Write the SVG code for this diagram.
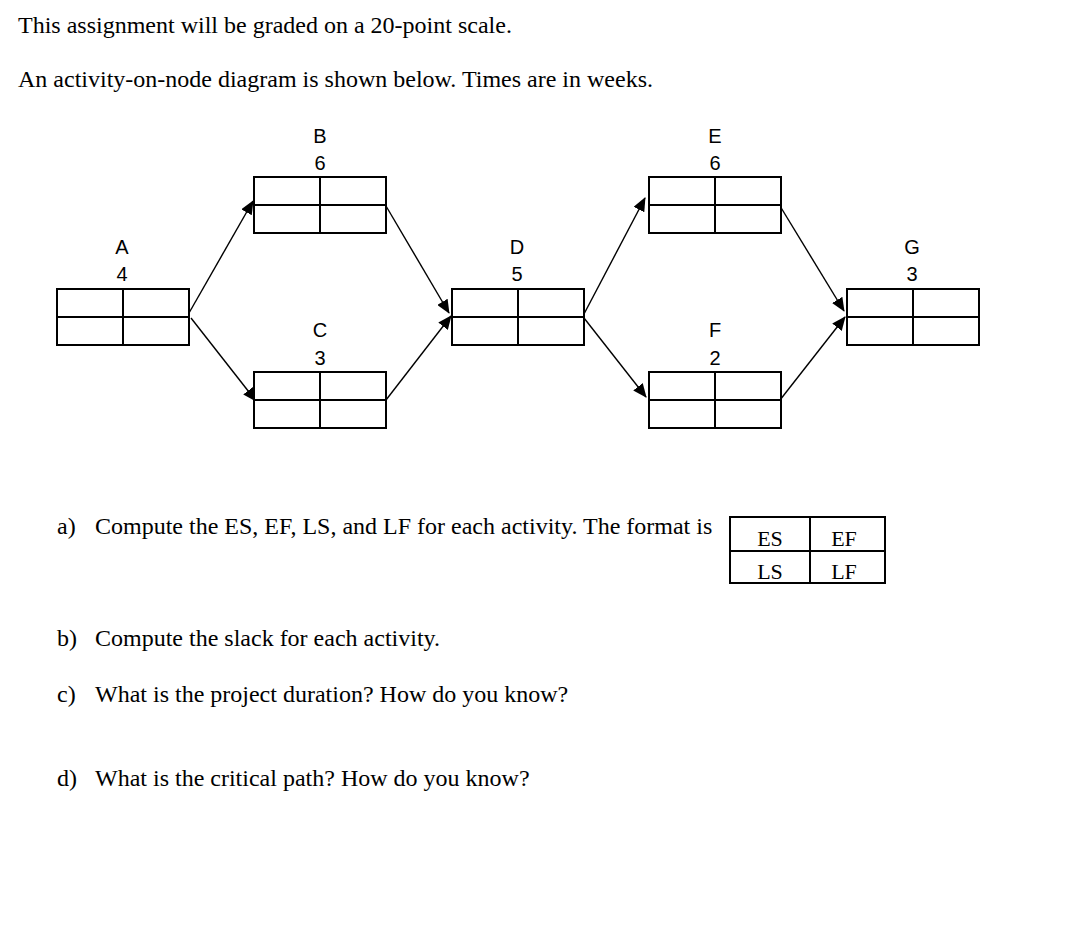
<svg xmlns="http://www.w3.org/2000/svg" width="1082" height="930" viewBox="0 0 1082 930">
<style>
.t{font-family:"Liberation Serif","Times New Roman",serif;font-size:24px;fill:#000}
.lb{font-family:"Liberation Sans",Arial,sans-serif;font-size:20px;fill:#000;text-anchor:middle}
.box{fill:#fff;stroke:#000;stroke-width:2}
.div{stroke:#000;stroke-width:2}
.con{stroke:#000;stroke-width:1.4;fill:none}
.fm{font-family:"Liberation Serif","Times New Roman",serif;font-size:22px;fill:#000;text-anchor:middle}
</style>
<defs>
<marker id="ah" markerUnits="userSpaceOnUse" markerWidth="14" markerHeight="12" refX="13" refY="6" orient="auto">
<path d="M0,0 L14,6 L0,12 Z" fill="#000"/>
</marker>
<g id="cell">
<rect class="box" x="0" y="0" width="132" height="56"/>
<line class="div" x1="0" y1="28" x2="132" y2="28"/>
<line class="div" x1="66" y1="0" x2="66" y2="56"/>
</g>
</defs>
<rect width="1082" height="930" fill="#fff"/>
<text class="t" x="18" y="33">This assignment will be graded on a 20-point scale.</text>
<text class="t" x="18" y="87">An activity-on-node diagram is shown below. Times are in weeks.</text>

<g id="connectors">
<line class="con" x1="189" y1="313" x2="253" y2="201" marker-end="url(#ah)"/>
<line class="con" x1="191" y1="318" x2="256" y2="401" marker-end="url(#ah)"/>
<line class="con" x1="386" y1="206" x2="449" y2="313" marker-end="url(#ah)"/>
<line class="con" x1="386" y1="400" x2="451" y2="316" marker-end="url(#ah)"/>
<line class="con" x1="584" y1="314" x2="645" y2="198" marker-end="url(#ah)"/>
<line class="con" x1="584" y1="318" x2="646" y2="397" marker-end="url(#ah)"/>
<line class="con" x1="780" y1="206" x2="844" y2="311" marker-end="url(#ah)"/>
<line class="con" x1="780" y1="400" x2="845" y2="317" marker-end="url(#ah)"/>
</g>

<g id="node-A"><use href="#cell" x="57" y="289"/><text class="lb" x="122" y="254">A</text><text class="lb" x="122" y="281">4</text></g>
<g id="node-B"><use href="#cell" x="254" y="177"/><text class="lb" x="320" y="143">B</text><text class="lb" x="320" y="170">6</text></g>
<g id="node-C"><use href="#cell" x="254" y="372"/><text class="lb" x="320" y="337">C</text><text class="lb" x="320" y="365">3</text></g>
<g id="node-D"><use href="#cell" x="452" y="289"/><text class="lb" x="517" y="254">D</text><text class="lb" x="517" y="281">5</text></g>
<g id="node-E"><use href="#cell" x="649" y="177"/><text class="lb" x="715" y="143">E</text><text class="lb" x="715" y="170">6</text></g>
<g id="node-F"><use href="#cell" x="649" y="372"/><text class="lb" x="715" y="337">F</text><text class="lb" x="715" y="365">2</text></g>
<g id="node-G"><use href="#cell" x="847" y="289"/><text class="lb" x="912" y="254">G</text><text class="lb" x="912" y="281">3</text></g>

<text class="t" x="57" y="534">a)</text>
<text class="t" x="95" y="534">Compute the ES, EF, LS, and LF for each activity. The format is</text>
<g id="format">
<rect class="box" x="730" y="517" width="155" height="66"/>
<line class="div" x1="730" y1="551" x2="885" y2="551"/>
<line class="div" x1="810" y1="517" x2="810" y2="583"/>
<text class="fm" x="770" y="546">ES</text>
<text class="fm" x="844" y="546">EF</text>
<text class="fm" x="770" y="579">LS</text>
<text class="fm" x="844" y="579">LF</text>
</g>
<text class="t" x="57" y="646">b)</text>
<text class="t" x="95" y="646">Compute the slack for each activity.</text>
<text class="t" x="57" y="702">c)</text>
<text class="t" x="95" y="702">What is the project duration? How do you know?</text>
<text class="t" x="57" y="786">d)</text>
<text class="t" x="95" y="786">What is the critical path? How do you know?</text>
</svg>
